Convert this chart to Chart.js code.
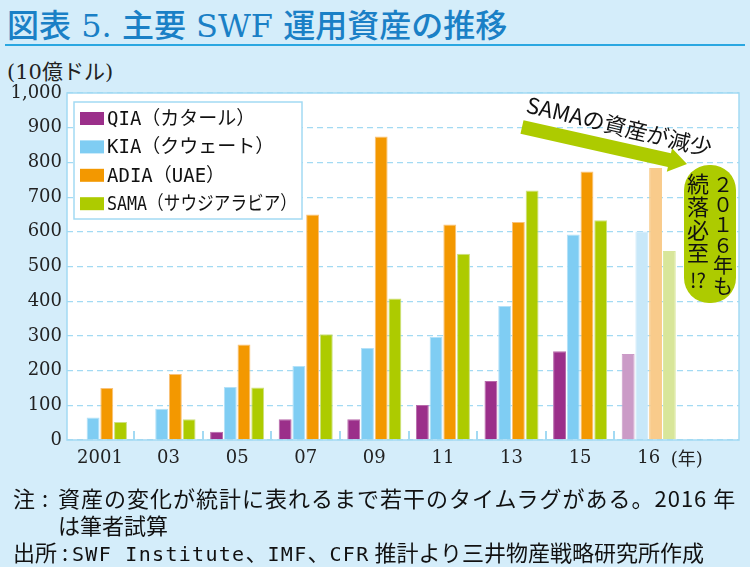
<!DOCTYPE html>
<html lang="ja">
<head>
<meta charset="utf-8">
<script src="https://cdn.jsdelivr.net/npm/chart.js@4.4.1/dist/chart.umd.min.js"></script>
<style>
  body { margin: 0; background: #d4edfa; }
  #wrap { position: relative; width: 750px; height: 567px; overflow: hidden; background: #d4edfa; }
  #chart { position: absolute; left: 0; top: 0; }
  .title {
    position: absolute; left: 7px; top: 6px; white-space: nowrap;
    font: 500 32px "DejaVu Serif", "Noto Sans CJK JP", serif; color: #1a80c6; line-height: 40px;
  }
  .rule { position: absolute; left: 5px; top: 44px; width: 740px; height: 2px; background: #2aa7e1; }
  .unit {
    position: absolute; left: 7px; top: 59px; white-space: nowrap;
    font: 21px "DejaVu Serif", "Noto Sans CJK JP", serif; color: #222; line-height: 26px;
  }
  .note {
    position: absolute; white-space: nowrap; color: #111; line-height: 26px;
    font: 22px "Noto Sans CJK JP", sans-serif;
  }
  .lead { display: inline-block; }
  .mono { font-family: "DejaVu Sans Mono", monospace; font-size: 20px; letter-spacing: 1.3px; }
</style>
</head>
<body>
<div id="wrap">
  <div class="title">図表 5. 主要 SWF 運用資産の推移</div>
  <div class="rule"></div>
  <div class="unit">(10億ドル)</div>
  <canvas id="chart" width="750" height="567"></canvas>
  <div class="note" style="left:13px; top:481px; letter-spacing:1px;"><span class="lead" style="width:45px">注 :</span>資産の変化が統計に表れるまで若干のタイムラグがある。2016 年</div>
  <div class="note" style="left:58px; top:508px;">は筆者試算</div>
  <div class="note" style="left:13px; top:535px;"><span class="lead" style="width:59px">出所 :</span><span class="mono">SWF Institute</span>、<span class="mono">IMF</span>、<span class="mono">CFR</span> 推計より三井物産戦略研究所作成</div>
</div>
<script>
// years on the axis (the last one is an estimate)
const years = ['2001', '03', '05', '07', '09', '11', '13', '15', '16'];
// assets, billions of dollars
const qia  = [2, 2, 24, 60, 60, 101, 170, 256, 248];
const kia  = [65, 90, 153, 213, 265, 297, 386, 592, 601];
const adia = [150, 190, 275, 650, 875, 621, 628, 774, 784];
const sama = [52, 60, 151, 305, 408, 537, 719, 633, 545];
const yTicks = [0, 100, 200, 300, 400, 500, 600, 700, 800, 900, 1000];

const fundNames = ['QIA（カタール）', 'KIA（クウェート）', 'ADIA（UAE）', 'SAMA（サウジアラビア）'];
const fundColors = ['#9b2f8a', '#7fcdf3', '#f39800', '#adcb00'];
const paleColors = ['#cb9bc7', '#c8e8f9', '#f9cb8b', '#d8e69a'];
const edgeColors = ['#b86aab', '#b3e1f8', '#f9c27a', '#cde080'];

const gridBlue = '#a3daf3';

function barSet(label, values, i) {
   return {
      label: label,
      data: values.map((v, k) => ({ x: k, y: v })),
      backgroundColor: values.map((v, k) => k === years.length - 1 ? paleColors[i] : fundColors[i]),
      borderColor: values.map((v, k) => k === years.length - 1 ? paleColors[i] : edgeColors[i]),
      borderWidth: 1,
      borderSkipped: 'bottom',
      categoryPercentage: 0.8,
      barPercentage: 0.94,
   };
}

const framePlugin = {
   id: 'frame',
   beforeDraw(chart) {
      const { ctx, chartArea: a } = chart;
      ctx.save();
      ctx.fillStyle = '#fff';
      ctx.fillRect(a.left, a.top, a.right - a.left, a.bottom - a.top);
      ctx.restore();
   },
   afterDraw(chart) {
      const { ctx, chartArea: a } = chart;
      const xs = chart.scales.x;
      ctx.save();

      // short marks between the year groups
      ctx.strokeStyle = gridBlue;
      ctx.lineWidth = 2;
      for (let i = 0; i < years.length - 1; i++) {
         const px = Math.round(xs.getPixelForValue(i + 0.5));
         ctx.beginPath();
         ctx.moveTo(px, a.bottom - 9);
         ctx.lineTo(px, a.bottom);
         ctx.stroke();
      }

      // plot frame
      ctx.lineWidth = 1.5;
      ctx.strokeRect(a.left, a.top, a.right - a.left, a.bottom - a.top);

      // legend box
      const lx = a.left + 7, ly = a.top + 9;
      ctx.fillStyle = '#fff';
      ctx.fillRect(lx, ly, 228, 117);
      ctx.strokeStyle = gridBlue;
      ctx.lineWidth = 1.5;
      ctx.strokeRect(lx, ly, 228, 117);
      ctx.font = '19px "DejaVu Sans Mono", "Noto Sans CJK JP", monospace';
      ctx.textBaseline = 'middle';
      ctx.textAlign = 'left';
      chart.data.datasets.forEach((ds, i) => {
         const cy = ly + 17 + i * 28.4;
         ctx.fillStyle = fundColors[i];
         ctx.fillRect(lx + 6, cy - 7, 24, 13);
         ctx.fillStyle = '#111';
         ctx.fillText(ds.label, lx + 33, cy + 1, 190);
      });

      // "(年)" after the last year label
      ctx.font = '18px "DejaVu Serif", "Noto Sans CJK JP", serif';
      ctx.fillStyle = '#222';
      ctx.fillText('(年)', xs.getPixelForValue(years.length - 1) + 22, a.bottom + 20);

      // arrow towards 2016
      const sx = a.left + 455, sy = a.top + 34;
      const tx = a.left + 620, ty = a.top + 71;
      const ang = Math.atan2(ty - sy, tx - sx);
      const len = Math.hypot(tx - sx, ty - sy);
      ctx.translate(sx, sy);
      ctx.rotate(ang);
      ctx.fillStyle = '#adcb00';
      ctx.beginPath();
      ctx.moveTo(0, -7);
      ctx.lineTo(len - 18, -7);
      ctx.lineTo(len - 18, -12);
      ctx.lineTo(len, 0);
      ctx.lineTo(len - 18, 12);
      ctx.lineTo(len - 18, 7);
      ctx.lineTo(0, 7);
      ctx.closePath();
      ctx.fill();
      ctx.setTransform(1, 0, 0, 1, 0, 0);

      // label on the arrow
      ctx.save();
      ctx.translate(a.left + 460, a.top + 11);
      ctx.rotate(13.5 * Math.PI / 180);
      ctx.font = '22px "Noto Sans CJK JP", sans-serif';
      ctx.fillStyle = '#111';
      ctx.textBaseline = 'middle';
      ctx.fillText('SAMAの資産が減少', 0, 0);
      ctx.restore();

      // bubble with vertical text
      const bx = 684, by = 165, bw = 52, bh = 138, r = 25;
      ctx.fillStyle = '#adcb00';
      ctx.beginPath();
      ctx.moveTo(bx + r, by);
      ctx.lineTo(bx + bw - r, by);
      ctx.arcTo(bx + bw, by, bx + bw, by + r, r);
      ctx.lineTo(bx + bw, by + bh - r);
      ctx.arcTo(bx + bw, by + bh, bx + bw - r, by + bh, r);
      ctx.lineTo(bx + r, by + bh);
      ctx.arcTo(bx, by + bh, bx, by + bh - r, r);
      ctx.lineTo(bx, by + r);
      ctx.arcTo(bx, by, bx + r, by, r);
      ctx.closePath();
      ctx.fill();

      ctx.fillStyle = '#111';
      ctx.textAlign = 'center';
      ctx.textBaseline = 'middle';
      ctx.font = '20px "Noto Sans CJK JP", sans-serif';
      ['２', '０', '１', '６', '年', 'も'].forEach((ch, i) => {
         ctx.fillText(ch, 723, 184 + i * 20.4);
      });
      ctx.font = '22px "Noto Sans CJK JP", sans-serif';
      ['続', '落', '必', '至'].forEach((ch, i) => {
         ctx.fillText(ch, 698, 184 + i * 23);
      });
      ctx.font = '20px "Noto Sans CJK JP", sans-serif';
      ctx.fillText('!?', 698, 280);

      ctx.restore();
   }
};

new Chart(document.getElementById('chart'), {
   type: 'bar',
   data: {
      datasets: [
         barSet(fundNames[0], qia, 0),
         barSet(fundNames[1], kia, 1),
         barSet(fundNames[2], adia, 2),
         barSet(fundNames[3], sama, 3),
      ]
   },
   options: {
      responsive: false,
      animation: false,
      layout: { padding: { top: 93, right: 11, left: 0, bottom: 0 } },
      scales: {
         x: {
            type: 'linear',
            bounds: 'data',
            offset: false,
            min: -0.48,
            max: 9.316,
            afterBuildTicks: (scale) => {
               scale.ticks = years.map((y, i) => ({ value: i }));
            },
            afterFit: (scale) => { scale.height = 127; },
            grid: { display: false, drawTicks: false, offset: false },
            border: { display: false },
            ticks: {
               autoSkip: false,
               maxRotation: 0,
               padding: 8,
               color: '#222',
               font: { family: '"DejaVu Serif", serif', size: 18 },
               callback: (v, i) => years[i],
            }
         },
         y: {
            min: 0,
            max: 1000,
            afterBuildTicks: (scale) => {
               scale.ticks = yTicks.map(v => ({ value: v }));
            },
            afterFit: (scale) => { scale.width = 67; },
            grid: { color: gridBlue, lineWidth: 1.2, drawTicks: false },
            border: { display: false, dash: [6, 4] },
            ticks: {
               padding: 5,
               color: '#222',
               font: { family: '"DejaVu Serif", serif', size: 18 },
               callback: (v) => v.toLocaleString('en-US'),
            }
         }
      },
      plugins: {
         legend: { display: false },
         tooltip: { enabled: false },
      }
   },
   plugins: [framePlugin]
});
</script>
</body>
</html>
